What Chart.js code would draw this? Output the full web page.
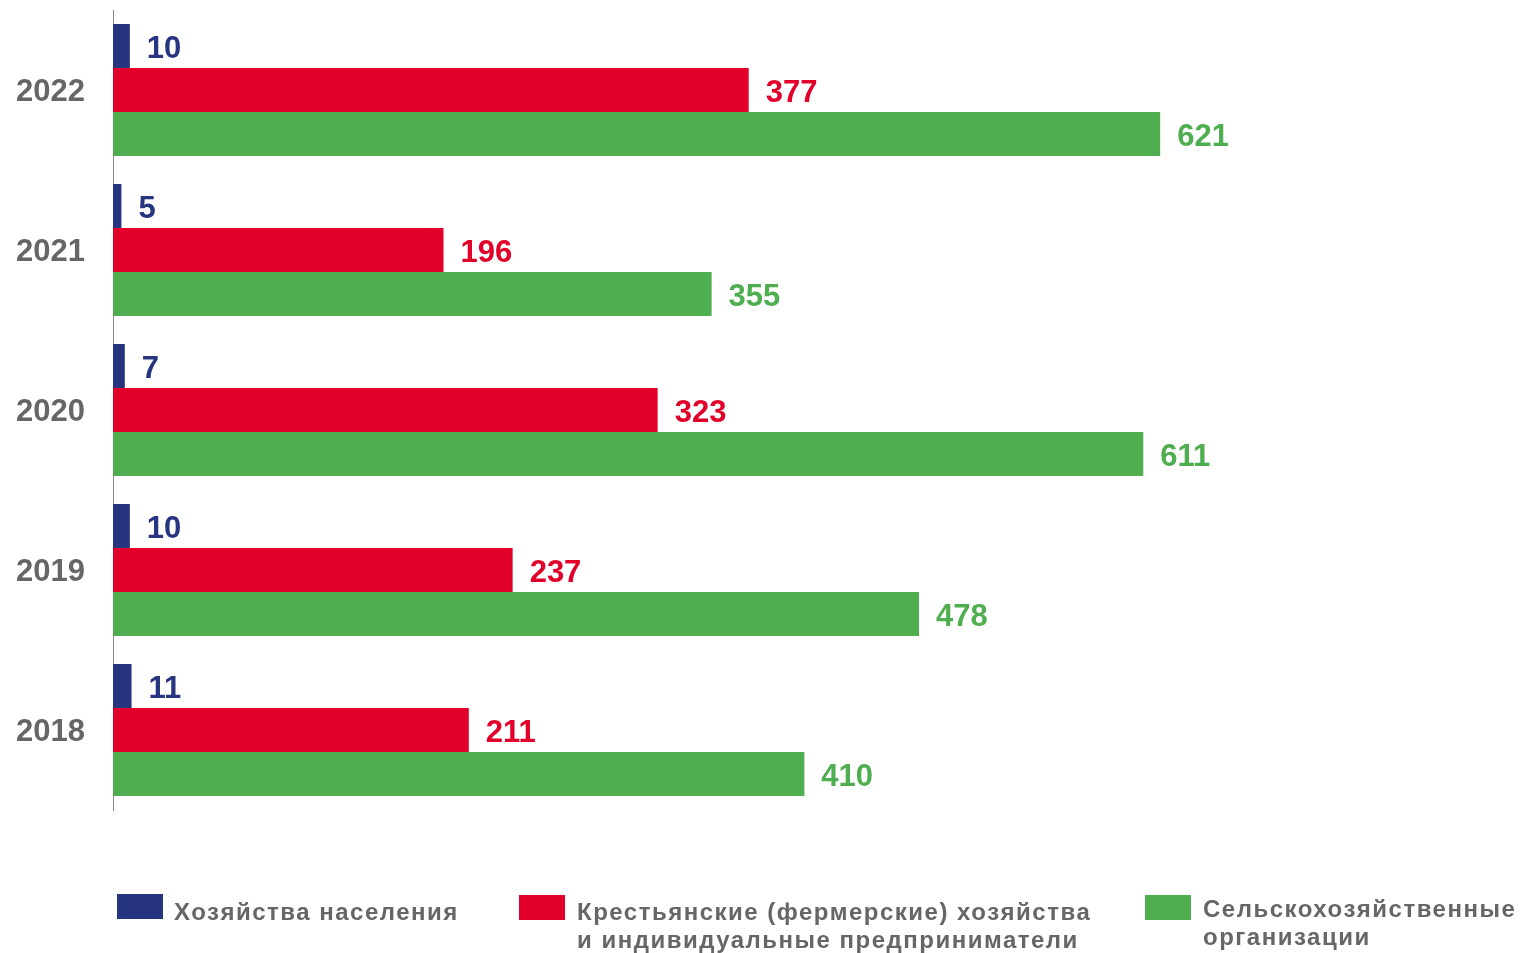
<!DOCTYPE html>
<html>
<head>
<meta charset="utf-8">
<script src="https://cdn.jsdelivr.net/npm/chart.js@4/dist/chart.umd.min.js"></script>
<style>
  html, body { margin: 0; padding: 0; background: #fff; }
  #wrap { position: relative; width: 1524px; height: 953px; }
  canvas { position: absolute; left: 0; top: 0; }
  .lg-box { position: absolute; width: 46px; height: 25px; }
  .lg-text { position: absolute; font-family: "Liberation Sans", Arial, sans-serif; font-weight: bold; font-size: 24px; letter-spacing: 1.5px; line-height: 28px; color: #666666; white-space: nowrap; }
</style>
</head>
<body>
<div id="wrap">
  <canvas id="c" width="1524" height="953"></canvas>
  <div id="legend"></div>
</div>
<script>
const categories = ['2022', '2021', '2020', '2019', '2018'];
const households = [10, 5, 7, 10, 11];
const farms = [377, 196, 323, 237, 211];
const agriOrgs = [621, 355, 611, 478, 410];
const seriesNames = [
  ['Хозяйства населения'],
  ['Крестьянские (фермерские) хозяйства', 'и индивидуальные предприниматели'],
  ['Сельскохозяйственные', 'организации']
];
const colors = ['#27347f', '#e2002b', '#4fae4f'];

const labelPlugin = {
  id: 'valueLabels',
  afterDatasetsDraw(chart) {
    const ctx = chart.ctx;
    ctx.save();
    ctx.font = 'bold 31px "Liberation Sans", Arial, sans-serif';
    ctx.textAlign = 'left';
    ctx.textBaseline = 'middle';
    chart.data.datasets.forEach((ds, i) => {
      const meta = chart.getDatasetMeta(i);
      ctx.fillStyle = ds.backgroundColor;
      meta.data.forEach((el, j) => {
        ctx.fillText(String(ds.data[j]), el.x + 17, el.y + 3);
      });
    });
    ctx.restore();
  }
};

new Chart(document.getElementById('c'), {
  type: 'bar',
  data: {
    labels: categories,
    datasets: [
      { label: seriesNames[0].join(' '), data: households, backgroundColor: colors[0] },
      { label: seriesNames[1].join(' '), data: farms, backgroundColor: colors[1] },
      { label: seriesNames[2].join(' '), data: agriOrgs, backgroundColor: colors[2] }
    ]
  },
  options: {
    indexAxis: 'y',
    responsive: false,
    animation: false,
    layout: { padding: { top: 10, bottom: 143, left: 0, right: 62 } },
    datasets: { bar: { categoryPercentage: 0.825, barPercentage: 1.0, borderWidth: 0 } },
    plugins: { legend: { display: false }, tooltip: { enabled: false } },
    scales: {
      x: { display: false, min: 0, max: 800 },
      y: {
        afterFit(scale) { scale.width = 113; scale.paddingTop = 0; scale.paddingBottom = 0; },
        grid: { display: false, drawTicks: false },
        border: { display: true, color: '#888888', width: 1 },
        ticks: {
          padding: 28,
          labelOffset: 2,
          color: '#666666',
          font: { family: '"Liberation Sans", Arial, sans-serif', size: 31, weight: 'bold' }
        }
      }
    }
  },
  plugins: [labelPlugin]
});

// HTML legend
const legendPos = [
  { box: [117, 894], text: [174, 898] },
  { box: [519, 895], text: [577, 898] },
  { box: [1145, 895], text: [1203, 895] }
];
const lg = document.getElementById('legend');
seriesNames.forEach((lines, i) => {
  const b = document.createElement('div');
  b.className = 'lg-box';
  b.style.left = legendPos[i].box[0] + 'px';
  b.style.top = legendPos[i].box[1] + 'px';
  b.style.background = colors[i];
  lg.appendChild(b);
  const t = document.createElement('div');
  t.className = 'lg-text';
  t.style.left = legendPos[i].text[0] + 'px';
  t.style.top = legendPos[i].text[1] + 'px';
  t.innerHTML = lines.join('<br>');
  lg.appendChild(t);
});
</script>
</body>
</html>
